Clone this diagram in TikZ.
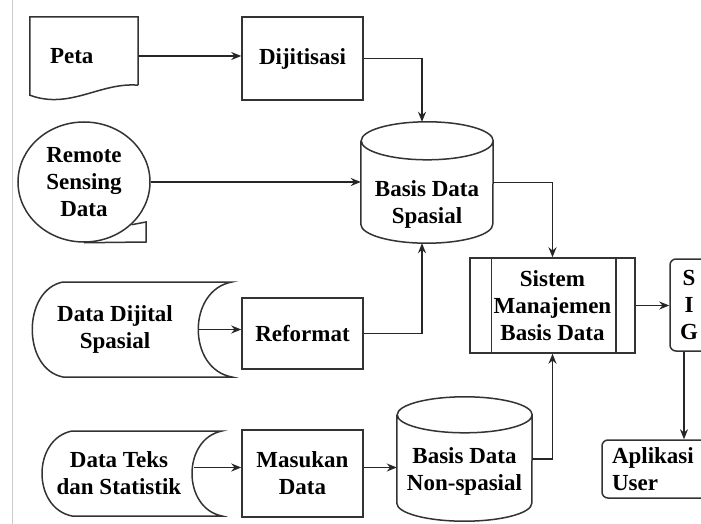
\documentclass[tikz,border=0pt]{standalone}
\usepackage{fontspec}
\setmainfont{Liberation Serif}
\usetikzlibrary{shapes.geometric, arrows.meta}

\begin{document}
\begin{tikzpicture}[x=1pt, y=-1pt,
        txt/.style={align=center, font=\bfseries\fontsize{23}{27}\selectfont},
        box/.style={txt, rectangle, draw=black!80, line width=1.5pt, inner sep=2pt},
        roundbox/.style={box, rounded corners=6pt},
        ghost/.style={txt, rectangle, inner sep=0pt},
        outline/.style={draw=black!80, line width=1.5pt},
        arrow/.style={->, >={Stealth[length=10pt, width=8pt]}, line width=1.4pt, color=black!85}
    ]
    \clip (0,0) rectangle (701,524);
    \fill[white] (0,0) rectangle (701,524);
    \draw[black!20, line width=0.8pt] (12,0) -- (12,524);

    % sumber data
    \node[ghost, minimum width=108, minimum height=78, text width=68, align=left] (peta) at (84,56) {Peta};
    \draw[outline] ([yshift=10pt]peta.south east) -- (peta.north east) -- (peta.north west) -- (peta.south west)
        .. controls (70,110) and (100,82) .. ([yshift=10pt]peta.south east);

    \node[txt, ellipse, outline, minimum width=132, minimum height=120, inner sep=0pt] (remote) at (84,182) {Remote\\Sensing\\Data};
    \draw[outline] (remote.south) -- (146,242) -- (146,222) -- (remote.-42);

    \node[ghost, minimum width=166, minimum height=95] (digital) at (115,329.5) {Data Dijital\\Spasial};
    \draw[outline] (232,282) -- (63,282) .. controls (22,290) and (22,369) .. (63,377)
        -- (232,377) .. controls (187,369) and (187,290) .. cycle;

    \node[ghost, minimum width=150, minimum height=85] (teks) at (119,473.5) {Data Teks\\dan Statistik};
    \draw[outline] (222,431) -- (72,431) .. controls (32,439) and (32,508) .. (72,516)
        -- (222,516) .. controls (182,508) and (182,439) .. cycle;

    % proses
    \node[box, minimum width=121, minimum height=83] (dijit) at (302.5,58.5) {Dijitisasi};
    \node[box, minimum width=121, minimum height=71] (reformat) at (302.5,333.5) {Reformat};
    \node[box, minimum width=121, minimum height=87] (masukan) at (302.5,473.5) {Masukan\\Data};

    % basis data
    \node[ghost, minimum width=132, minimum height=121] (spasial) at (427,182.5) {};
    \draw[outline] ([yshift=-19pt]spasial.north west) -- ([yshift=19pt]spasial.south west)
        arc[start angle=180, end angle=360, x radius=66pt, y radius=19pt]
        -- ([yshift=-19pt]spasial.north east)
        arc[start angle=0, end angle=360, x radius=66pt, y radius=19pt];
    \node[txt] (spasialtxt) at ([yshift=-22pt]spasial.center) {Basis Data\\Spasial};

    \node[ghost, minimum width=135, minimum height=124] (nonspasial) at (464.5,459) {};
    \draw[outline] ([yshift=-18pt]nonspasial.north west) -- ([yshift=18pt]nonspasial.south west)
        arc[start angle=180, end angle=360, x radius=67.5pt, y radius=18pt]
        -- ([yshift=-18pt]nonspasial.north east)
        arc[start angle=0, end angle=360, x radius=67.5pt, y radius=18pt];
    \node[txt] (nonspasialtxt) at ([yshift=-12pt]nonspasial.center) {Basis Data\\Non-spasial};

    \node[box, minimum width=165, minimum height=95] (smbd) at (552.5,305.5) {Sistem\\Manajemen\\Basis Data};
    \draw[outline] ([xshift=22pt]smbd.north west) -- ([xshift=22pt]smbd.south west);
    \draw[outline] ([xshift=-20pt]smbd.north east) -- ([xshift=-20pt]smbd.south east);

    \node[roundbox, minimum width=38, minimum height=92] (sig) at (689,305) {S\\I\\G};
    \node[roundbox, minimum width=138, minimum height=58, text width=118, align=left, inner sep=0pt] (aplikasi) at (671,469) {Aplikasi\\User};

    % aliran data
    \draw[arrow] (peta.east) -- (peta.east -| dijit.west);
    \draw[arrow] (dijit.east) -| ([xshift=-5pt]spasial.north);
    \draw[arrow] (remote.east) -- (remote.east -| spasial.west);
    \draw[arrow] (digital.east) -- (digital.east -| reformat.west);
    \draw[arrow] (reformat.east) -| ([xshift=-5pt]spasial.south);
    \draw[arrow] ([yshift=6pt]teks.east) -- ([yshift=6pt]teks.east -| masukan.west);
    \draw[arrow] ([yshift=6pt]masukan.east) -- ([yshift=6pt]masukan.east -| nonspasial.west);
    \draw[arrow] (spasial.east) -| (smbd.north);
    \draw[arrow] (nonspasial.east) -| (smbd.south);
    \draw[arrow] (smbd.east) -- (smbd.east -| sig.west);
    \draw[arrow] ([xshift=-5pt]sig.south) -- ([xshift=-5pt]sig.south |- aplikasi.north);
\end{tikzpicture}
\end{document}
